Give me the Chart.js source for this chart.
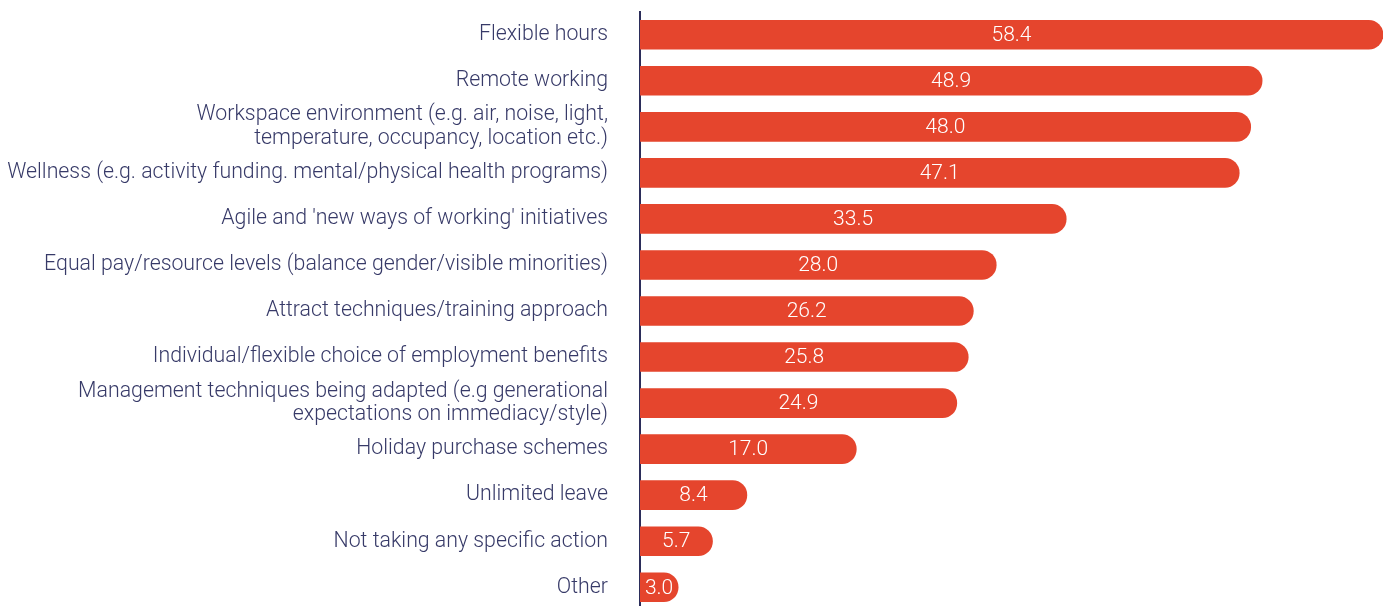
<!DOCTYPE html>
<html><head><meta charset="utf-8">
<script src="https://cdn.jsdelivr.net/npm/chart.js@4.4.1/dist/chart.umd.min.js"></script>
<style>
html,body{margin:0;padding:0;background:#fff;overflow:hidden;}
#wrap{position:relative;width:1389px;height:622px;}
</style></head>
<body><div id="wrap"><canvas id="c"></canvas></div>
<script>
const categories = [
  "Flexible hours",
  "Remote working",
  ["Workspace environment (e.g. air, noise, light,", "temperature, occupancy, location etc.)"],
  "Wellness (e.g. activity funding. mental/physical health programs)",
  "Agile and 'new ways of working' initiatives",
  "Equal pay/resource levels (balance gender/visible minorities)",
  "Attract techniques/training approach",
  "Individual/flexible choice of employment benefits",
  ["Management techniques being adapted (e.g generational", "expectations on immediacy/style)"],
  "Holiday purchase schemes",
  "Unlimited leave",
  "Not taking any specific action",
  "Other"
];
const values = [58.4, 48.9, 48.0, 47.1, 33.5, 28.0, 26.2, 25.8, 24.9, 17.0, 8.4, 5.7, 3.0];

const FONT = "Roboto";
const valueLabels = {
  id: 'valueLabels',
  afterDatasetsDraw(chart) {
    const ctx = chart.ctx;
    const meta = chart.getDatasetMeta(0);
    ctx.save();
    ctx.fillStyle = '#ffffff';
    ctx.font = '300 21px ' + FONT;
    ctx.textAlign = 'center';
    ctx.textBaseline = 'middle';
    meta.data.forEach((bar, i) => {
      const x = (bar.base + bar.x) / 2;
      ctx.fillText(values[i].toFixed(1), x, bar.y + 1);
    });
    ctx.restore();
  }
};

new Chart(document.getElementById('c'), {
  type: 'bar',
  data: {
    labels: categories,
    datasets: [{
      data: values,
      backgroundColor: '#e5452d',
      borderRadius: 15,
      borderSkipped: 'start',
      barThickness: 29
    }]
  },
  options: {
    indexAxis: 'y',
    responsive: true,
    maintainAspectRatio: false,
    animation: false,
    layout: { padding: { top: 10, right: 6, bottom: 0, left: 0 } },
    plugins: { legend: { display: false }, tooltip: { enabled: false } },
    scales: {
      x: {
        display: false,
        min: 0,
        max: 58.4
      },
      y: {
        grid: { display: true, drawOnChartArea: false, drawTicks: true, tickLength: 32, tickColor: 'rgba(0,0,0,0)', color: 'rgba(0,0,0,0)' },
        border: { display: true, color: '#2b2d5a', width: 2 },
        ticks: {
          color: '#373a68',
          font: { family: FONT, size: 21.3, weight: 300, lineHeight: 1.1 },
          padding: 0,
          autoSkip: false
        },
        afterFit(scale) { scale.width = 640; }
      }
    }
  },
  plugins: [valueLabels]
});
</script></body></html>
